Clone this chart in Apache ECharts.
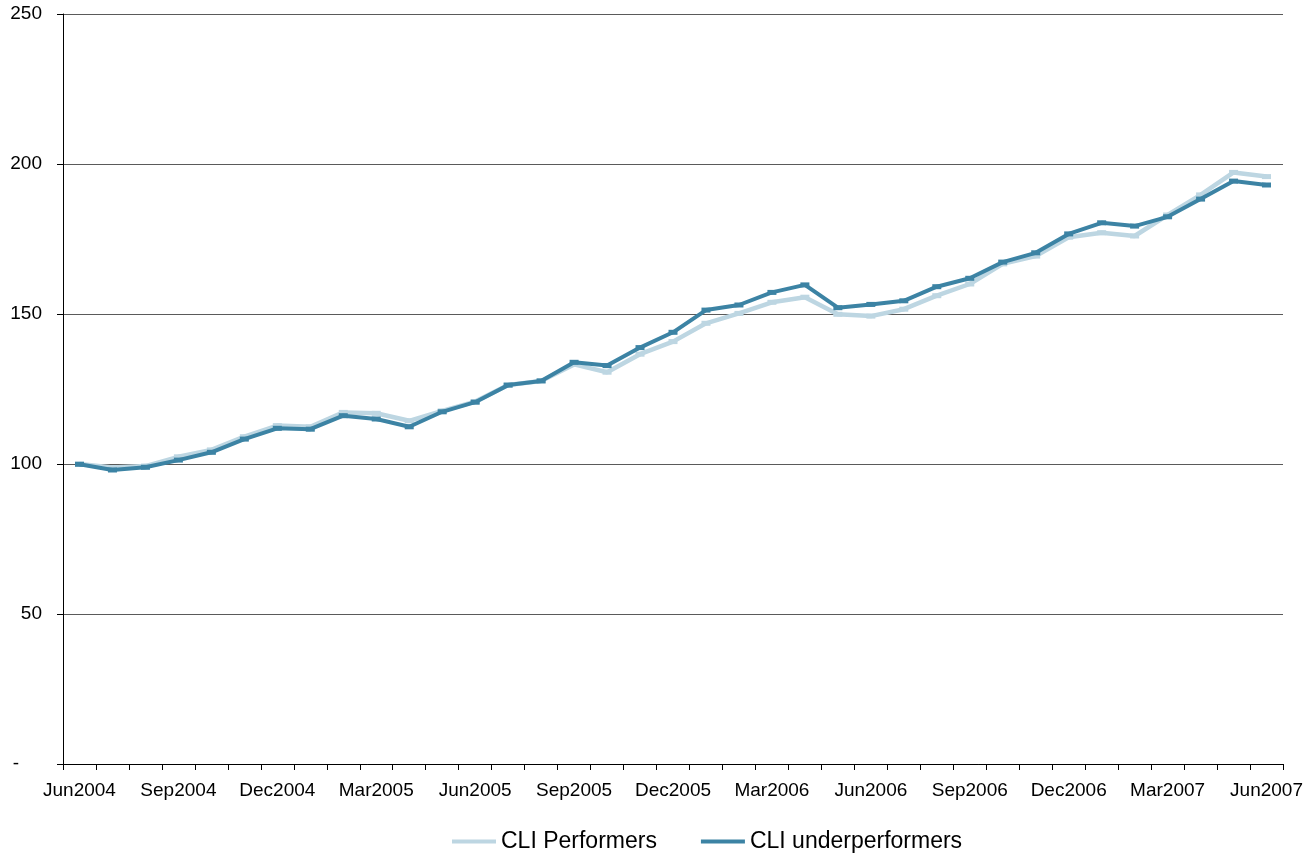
<!DOCTYPE html>
<html>
<head>
<meta charset="utf-8">
<script src="https://cdn.jsdelivr.net/npm/echarts@6/dist/echarts.min.js"></script>
<style>
html,body{margin:0;padding:0;background:#fff;}
#c{width:1308px;height:855px;}
</style>
</head>
<body>
<div id="c"></div>
<script>
const categories = ['Jun2004','Jul2004','Aug2004','Sep2004','Oct2004','Nov2004','Dec2004','Jan2005','Feb2005','Mar2005','Apr2005','May2005',
  'Jun2005','Jul2005','Aug2005','Sep2005','Oct2005','Nov2005','Dec2005','Jan2006','Feb2006','Mar2006','Apr2006','May2006',
  'Jun2006','Jul2006','Aug2006','Sep2006','Oct2006','Nov2006','Dec2006','Jan2007','Feb2007','Mar2007','Apr2007','May2007','Jun2007'];
const performers = [100,98.8,99.3,102.4,104.7,109.1,112.8,112.4,117.2,116.9,114.4,117.7,
  120.8,126.3,127.7,133.2,130.6,136.6,140.8,146.9,150.2,153.9,155.6,149.9,
  149.3,151.6,156.1,160.0,166.7,169.3,175.6,177.1,176.0,183.0,189.7,197.2,195.8];
const underperformers = [99.9,98.0,98.9,101.3,103.9,108.3,111.9,111.6,116.1,115.0,112.4,117.4,
  120.6,126.3,127.7,133.9,132.8,138.8,143.9,151.3,153.0,157.2,159.7,152.1,
  153.2,154.4,159.1,161.9,167.3,170.4,176.7,180.4,179.3,182.4,188.3,194.3,193.0];
const seriesNames = ['CLI Performers','CLI underperformers'];

const FONT = 'Liberation Sans, Arial, sans-serif';
const chart = echarts.init(document.getElementById('c'), null, {renderer:'canvas'});
chart.setOption({
  animation:false,
  backgroundColor:'#fff',
  textStyle:{fontFamily:FONT},
  grid:{left:63,right:25,top:14,bottom:91,containLabel:false},
  legend:{
    left:447, top:825, icon:'rect', itemWidth:44, itemHeight:4, itemGap:44,
    textStyle:{fontFamily:FONT,fontSize:23,color:'#000'},
    data:seriesNames
  },
  xAxis:{
    type:'category', data:categories, boundaryGap:true,
    axisLine:{lineStyle:{color:'#000',width:1}},
    axisTick:{show:true,length:6,interval:0,lineStyle:{color:'#000'}},
    axisLabel:{interval:2,margin:17,fontFamily:FONT,fontSize:19,color:'#000'},
    splitLine:{show:false}
  },
  yAxis:{
    type:'value', min:0, max:250, interval:50,
    axisLine:{show:true,lineStyle:{color:'#000',width:1}},
    axisTick:{show:true,length:6,lineStyle:{color:'#000'}},
    axisLabel:{margin:21,fontFamily:FONT,fontSize:19,color:'#000',
      formatter:function(v){return v===0?'{d|-}':String(v);},
      rich:{d:{fontFamily:FONT,fontSize:19,color:'#000',padding:[0,23,0,0]}}},
    splitLine:{show:true,lineStyle:{color:'#5a5a5a',width:1}}
  },
  series:[
    {name:seriesNames[0],type:'line',data:performers,color:'#bdd6e2',
     lineStyle:{width:4.5,color:'#bdd6e2'},symbol:'rect',symbolSize:[9,5],showAllSymbol:true,
     itemStyle:{color:'#bdd6e2'},z:2},
    {name:seriesNames[1],type:'line',data:underperformers,color:'#3c83a4',
     lineStyle:{width:4,color:'#3c83a4'},symbol:'rect',symbolSize:[9,5],showAllSymbol:true,
     itemStyle:{color:'#3c83a4'},z:3}
  ]
});
</script>
</body>
</html>
